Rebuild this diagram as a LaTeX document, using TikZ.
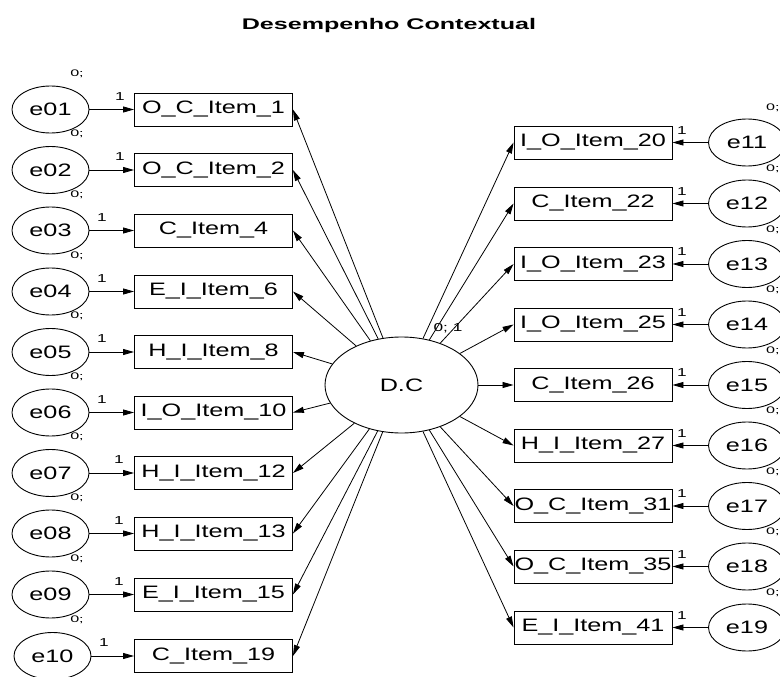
\documentclass[tikz,border=0pt]{standalone}
\usepackage{fontspec}
\setmainfont{Liberation Sans}
\usetikzlibrary{arrows.meta,shapes.geometric}

% wide lettering used throughout the path diagram
\newcommand\wtxt[1]{{\fontsize{18}{18}\selectfont\scalebox{1.4}[1]{#1}}}
\newcommand\ztxt[1]{{\fontsize{9.5}{10}\selectfont\scalebox{1.7}[1]{#1}}}
\newcommand\otxt[1]{{\fontsize{11.5}{12}\selectfont\scalebox{1.5}[1]{#1}}}

\tikzset{
  obs/.style={draw, line width=0.9pt, rectangle, minimum width=158pt, minimum height=33pt, inner sep=0pt},
  err/.style={draw, line width=0.9pt, ellipse, minimum width=77pt, minimum height=47pt, inner sep=0pt},
  lat/.style={draw, line width=0.9pt, ellipse, minimum width=153pt, minimum height=96pt, inner sep=0pt},
  arr/.style={line width=0.8pt, -{Triangle[length=11pt,width=6pt]}},
  lbl/.style={inner sep=0pt}
}

\begin{document}
\begin{tikzpicture}[x=1pt,y=-1pt]
\useasboundingbox (0,0) rectangle (780,677);

% title
\node[lbl, anchor=base] (title) at (389,29.5) {\fontsize{15.4}{16}\selectfont\bfseries\scalebox{1.63}[1]{Desempenho Contextual}};

% latent factor
\node[lat] (DC) at (401.5,385) {\wtxt{D.C}};
\node[lbl] (dcl) at (448,328) {\otxt{0; 1}};

% left column: indicators with their error terms
\foreach \n/\t/\y/\ex/\ox in {
  01/O\_C\_Item\_1/109.5/50.5/120,
  02/O\_C\_Item\_2/170/50.5/120,
  03/C\_Item\_4/230.5/50.5/102,
  04/E\_I\_Item\_6/291.5/50.5/102,
  05/H\_I\_Item\_8/352/50.5/102,
  06/I\_O\_Item\_10/412.5/50.5/102,
  07/H\_I\_Item\_12/473/50.5/119,
  08/H\_I\_Item\_13/533.5/50.5/119,
  09/E\_I\_Item\_15/594.5/50.5/119,
  10/C\_Item\_19/656/52.5/104}{
  \node[obs] (b\n) at (213.5,\y) {\wtxt{\t}};
  \node[err] (e\n) at (\ex,\y) {\wtxt{e\n}};
  \node[lbl] (v\n) at (77,\y-36) {\ztxt{0;}};
  \node[lbl] (w\n) at (\ox,\y-13) {\otxt{1}};
  \draw[arr] (e\n) -- (b\n);
  \draw[arr] (DC) -- (b\n.east);
}

% right column: indicators with their error terms
\foreach \n/\t/\y in {
  11/I\_O\_Item\_20/142.5,
  12/C\_Item\_22/203.5,
  13/I\_O\_Item\_23/264,
  14/I\_O\_Item\_25/324.5,
  15/C\_Item\_26/385,
  16/H\_I\_Item\_27/445.5,
  17/O\_C\_Item\_31/506,
  18/O\_C\_Item\_35/566.5,
  19/E\_I\_Item\_41/627.5}{
  \node[obs] (b\n) at (593,\y) {\wtxt{\t}};
  \node[err] (e\n) at (747,\y) {\wtxt{e\n}};
  \node[lbl, anchor=west] (v\n) at (766,\y-34.5) {\ztxt{0;}};
  \node[lbl] (w\n) at (682,\y-12) {\otxt{1}};
  \draw[arr] (e\n) -- (b\n);
  \draw[arr] (DC) -- (b\n.west);
}
\end{tikzpicture}
\end{document}
